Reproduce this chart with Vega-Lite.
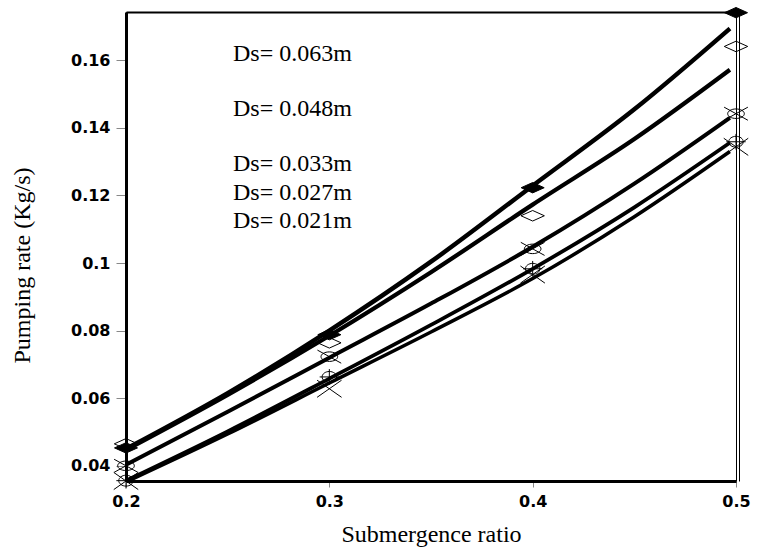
{
  "$schema": "https://vega.github.io/schema/vega-lite/v6.json",
  "width": 610,
  "height": 469,
  "autosize": {"type": "none"},
  "padding": {"left": 126, "top": 12, "right": 21, "bottom": 71},
  "background": "white",
  "config": {
    "view": {"stroke": "black", "strokeWidth": 1},
    "axis": {"grid": false, "domainColor": "black", "labelColor": "black", "titleColor": "black", "tickColor": "#888888", "labelFlush": false, "labelOverlap": false}
  },
  "datasets": {
    "points": [
      {"series": "0.063", "ratio": 0.2, "rate": 0.0453},
      {"series": "0.063", "ratio": 0.3, "rate": 0.0788},
      {"series": "0.063", "ratio": 0.4, "rate": 0.1223},
      {"series": "0.063", "ratio": 0.5, "rate": 0.1741},
      {"series": "0.048", "ratio": 0.2, "rate": 0.0465},
      {"series": "0.048", "ratio": 0.3, "rate": 0.0764},
      {"series": "0.048", "ratio": 0.4, "rate": 0.1140},
      {"series": "0.048", "ratio": 0.5, "rate": 0.1641},
      {"series": "0.033", "ratio": 0.2, "rate": 0.0400},
      {"series": "0.033", "ratio": 0.3, "rate": 0.0723},
      {"series": "0.033", "ratio": 0.4, "rate": 0.1042},
      {"series": "0.033", "ratio": 0.5, "rate": 0.1442},
      {"series": "0.027", "ratio": 0.2, "rate": 0.0356},
      {"series": "0.027", "ratio": 0.3, "rate": 0.0663},
      {"series": "0.027", "ratio": 0.4, "rate": 0.0983},
      {"series": "0.027", "ratio": 0.5, "rate": 0.1359},
      {"series": "0.021", "ratio": 0.2, "rate": 0.0355},
      {"series": "0.021", "ratio": 0.3, "rate": 0.0628},
      {"series": "0.021", "ratio": 0.4, "rate": 0.0966},
      {"series": "0.021", "ratio": 0.5, "rate": 0.1344}
    ],
    "fits": [
      {"series": "0.063", "ratio": 0.2, "rate": 0.0450},
      {"series": "0.063", "ratio": 0.25, "rate": 0.0615},
      {"series": "0.063", "ratio": 0.3, "rate": 0.0800},
      {"series": "0.063", "ratio": 0.35, "rate": 0.1004},
      {"series": "0.063", "ratio": 0.4, "rate": 0.1229},
      {"series": "0.063", "ratio": 0.45, "rate": 0.1455},
      {"series": "0.063", "ratio": 0.497, "rate": 0.1694},
      {"series": "0.048", "ratio": 0.2, "rate": 0.0447},
      {"series": "0.048", "ratio": 0.25, "rate": 0.0610},
      {"series": "0.048", "ratio": 0.3, "rate": 0.0785},
      {"series": "0.048", "ratio": 0.35, "rate": 0.0973},
      {"series": "0.048", "ratio": 0.4, "rate": 0.1173},
      {"series": "0.048", "ratio": 0.45, "rate": 0.1367},
      {"series": "0.048", "ratio": 0.497, "rate": 0.1572},
      {"series": "0.033", "ratio": 0.2, "rate": 0.0403},
      {"series": "0.033", "ratio": 0.25, "rate": 0.0560},
      {"series": "0.033", "ratio": 0.3, "rate": 0.0720},
      {"series": "0.033", "ratio": 0.35, "rate": 0.0880},
      {"series": "0.033", "ratio": 0.4, "rate": 0.1048},
      {"series": "0.033", "ratio": 0.45, "rate": 0.1235},
      {"series": "0.033", "ratio": 0.497, "rate": 0.1430},
      {"series": "0.027", "ratio": 0.2, "rate": 0.0356},
      {"series": "0.027", "ratio": 0.25, "rate": 0.0502},
      {"series": "0.027", "ratio": 0.3, "rate": 0.0658},
      {"series": "0.027", "ratio": 0.35, "rate": 0.0817},
      {"series": "0.027", "ratio": 0.4, "rate": 0.0983},
      {"series": "0.027", "ratio": 0.45, "rate": 0.1165},
      {"series": "0.027", "ratio": 0.497, "rate": 0.1356},
      {"series": "0.021", "ratio": 0.2, "rate": 0.0352},
      {"series": "0.021", "ratio": 0.25, "rate": 0.0494},
      {"series": "0.021", "ratio": 0.3, "rate": 0.0645},
      {"series": "0.021", "ratio": 0.35, "rate": 0.0796},
      {"series": "0.021", "ratio": 0.4, "rate": 0.0954},
      {"series": "0.021", "ratio": 0.45, "rate": 0.1137},
      {"series": "0.021", "ratio": 0.497, "rate": 0.1330}
    ],
    "notes": [
      {"label": "Ds= 0.063m", "ratio": 0.2526, "rate": 0.1597},
      {"label": "Ds= 0.048m", "ratio": 0.2526, "rate": 0.1434},
      {"label": "Ds= 0.033m", "ratio": 0.2526, "rate": 0.1271},
      {"label": "Ds= 0.027m", "ratio": 0.2526, "rate": 0.1187},
      {"label": "Ds= 0.021m", "ratio": 0.2526, "rate": 0.1103}
    ]
  },
  "resolve": {"axis": {"x": "independent", "y": "independent"}},
  "layer": [
    {
      "data": {"name": "fits"},
      "mark": {"type": "line", "interpolate": "monotone", "color": "black", "clip": true},
      "encoding": {
        "x": {
          "field": "ratio", "type": "quantitative",
          "scale": {"domain": [0.2, 0.5], "nice": false, "zero": false},
          "axis": {
            "values": [0.2, 0.3, 0.4, 0.5], "format": "~g", "orient": "bottom",
            "domainWidth": 3, "tickSize": 6, "tickWidth": 1,
            "labelFont": "DejaVu Sans", "labelFontWeight": "bold", "labelFontSize": 16, "labelPadding": 6,
            "title": "Submergence ratio", "titleFont": "Liberation Serif", "titleFontWeight": "normal", "titleFontSize": 24,
            "titleY": 60, "titleBaseline": "alphabetic"
          }
        },
        "y": {
          "field": "rate", "type": "quantitative",
          "scale": {"domain": [0.0355, 0.1743], "nice": false, "zero": false},
          "axis": {
            "values": [0.04, 0.06, 0.08, 0.1, 0.12, 0.14, 0.16], "format": "~g", "orient": "left",
            "domainWidth": 3, "tickSize": 10, "tickWidth": 1,
            "labelFont": "DejaVu Sans", "labelFontWeight": "bold", "labelFontSize": 16, "labelPadding": 6,
            "title": "Pumping  rate (Kg/s)", "titleFont": "Liberation Serif", "titleFontWeight": "normal", "titleFontSize": 24,
            "titleX": -104, "titleY": 253, "titleAngle": -90, "titleBaseline": "middle", "titleAlign": "center"
          }
        },
        "detail": {"field": "series"},
        "strokeWidth": {
          "field": "series", "type": "nominal",
          "scale": {"domain": ["0.063", "0.048", "0.033", "0.027", "0.021"], "range": [4.5, 3.5, 3, 2.5, 1]},
          "legend": null
        }
      }
    },
    {
      "data": {"name": "points"},
      "mark": {"type": "point", "stroke": "black", "strokeWidth": 1, "opacity": 1},
      "encoding": {
        "x": {
          "field": "ratio", "type": "quantitative",
          "axis": {"orient": "top", "labels": false, "ticks": false, "title": null, "domainWidth": 2}
        },
        "y": {
          "field": "rate", "type": "quantitative",
          "axis": {"orient": "right", "labels": false, "ticks": false, "title": null, "domainWidth": 1, "offset": 3}
        },
        "shape": {
          "field": "series", "type": "nominal",
          "scale": {
            "domain": ["0.063", "0.048", "0.033", "0.027", "0.021"],
            "range": [
              "M-1,0L0,-0.45L1,0L0,0.45Z",
              "M-1,0L0,-0.45L1,0L0,0.45Z",
              "M-0.7,0A0.7,0.4 0 1,0 0.7,0A0.7,0.4 0 1,0 -0.7,0M-1,-0.55L1,0.55M-1,0.55L1,-0.55",
              "M-0.6,0A0.6,0.45 0 1,0 0.6,0A0.6,0.45 0 1,0 -0.6,0M0,-0.65L0,0.65M-0.8,0L0.8,0",
              "M-1,-0.7L1,0.7M-1,0.7L1,-0.7"
            ]
          },
          "legend": null
        },
        "fill": {
          "field": "series", "type": "nominal",
          "scale": {"domain": ["0.063", "0.048", "0.033", "0.027", "0.021"], "range": ["black", "transparent", "transparent", "transparent", "transparent"]},
          "legend": null
        },
        "size": {
          "field": "series", "type": "nominal",
          "scale": {"domain": ["0.063", "0.048", "0.033", "0.027", "0.021"], "range": [530, 600, 580, 480, 600]},
          "legend": null
        }
      }
    },
    {
      "data": {"name": "notes"},
      "mark": {"type": "text", "align": "left", "baseline": "alphabetic", "font": "Liberation Serif", "fontSize": 24, "color": "black"},
      "encoding": {
        "x": {"field": "ratio", "type": "quantitative", "axis": null},
        "y": {"field": "rate", "type": "quantitative", "axis": null},
        "text": {"field": "label"}
      }
    }
  ]
}
